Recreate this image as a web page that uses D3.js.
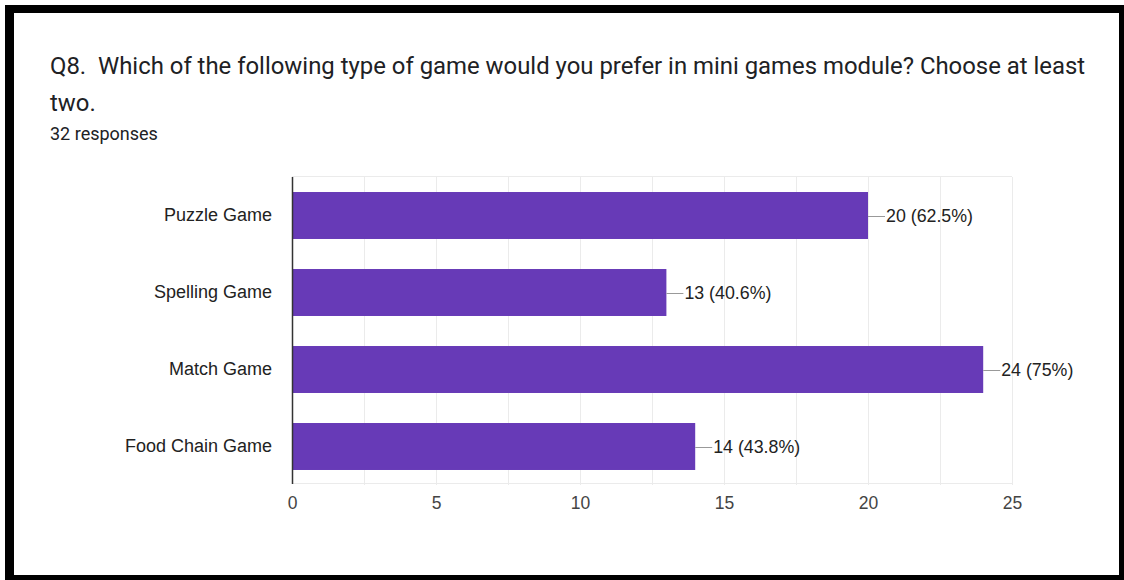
<!DOCTYPE html>
<html>
<head>
<meta charset="utf-8">
<script src="https://cdn.jsdelivr.net/npm/d3@7"></script>
<style>
  html, body { margin: 0; padding: 0; background: #fff; }
  svg { display: block; }
</style>
</head>
<body>
<svg id="chart" width="1124" height="580"></svg>
<script>
// Survey question and responses
const titleLines = ["Q8.  Which of the following type of game would you prefer in mini games module? Choose at least", "two."];
const responsesLabel = "32 responses";
const categories = ["Puzzle Game", "Spelling Game", "Match Game", "Food Chain Game"];
const counts = [20, 13, 24, 14];
const percents = ["62.5%", "40.6%", "75%", "43.8%"];
const tickValues = [0, 5, 10, 15, 20, 25];

const svg = d3.select("#chart");

// Card frame
svg.append("rect").attr("x", 5).attr("y", 5).attr("width", 1119).attr("height", 575).attr("fill", "#000");
svg.append("rect").attr("x", 14).attr("y", 13).attr("width", 1105).attr("height", 562).attr("fill", "#fff");

// Heading
const title = svg.append("text")
  .attr("font-family", "Roboto, 'Noto Sans', sans-serif")
  .attr("font-size", 23.9)
  .attr("fill", "#202124")
  .style("white-space", "pre");
titleLines.forEach((line, i) => {
  title.append("tspan").attr("x", 50).attr("y", 74 + i * 37).text(line);
});
svg.append("text")
  .attr("x", 50).attr("y", 139.5)
  .attr("font-family", "Roboto, 'Noto Sans', sans-serif")
  .attr("font-size", 18)
  .attr("fill", "#202124")
  .text(responsesLabel);

// Plot area
const plot = { left: 292, right: 1012, top: 177, bottom: 485 };
const x = d3.scaleLinear().domain([0, 25]).range([plot.left, plot.right]);
const y = d3.scaleBand().domain(categories).range([plot.top, plot.bottom]).paddingInner(0.39).paddingOuter(0.195);

const chartFont = "'Liberation Sans', Arial, sans-serif";
const data = categories.map((c, i) => ({ cat: c, count: counts[i], pct: percents[i] }));

// Grid: vertical lines every 2.5 units, plus top and bottom edges
const grid = svg.append("g").attr("stroke", "#ebebeb").attr("stroke-width", 1);
d3.range(2.5, 25.01, 2.5).forEach(v => {
  grid.append("line").attr("x1", Math.round(x(v)) + 0.5).attr("x2", Math.round(x(v)) + 0.5)
    .attr("y1", plot.top).attr("y2", plot.bottom);
});
grid.append("line").attr("x1", plot.left).attr("x2", plot.right).attr("y1", plot.top - 0.5).attr("y2", plot.top - 0.5);
grid.append("line").attr("x1", plot.left).attr("x2", plot.right).attr("y1", plot.bottom - 1.5).attr("y2", plot.bottom - 1.5);

// Bars
svg.append("g").selectAll("rect").data(data).join("rect")
  .attr("x", x(0))
  .attr("y", d => y(d.cat))
  .attr("width", d => x(d.count) - x(0))
  .attr("height", y.bandwidth())
  .attr("fill", "#673ab7");

// Baseline
svg.append("line")
  .attr("x1", x(0) + 0.5).attr("x2", x(0) + 0.5)
  .attr("y1", plot.top).attr("y2", plot.bottom - 1)
  .attr("stroke", "#333").attr("stroke-width", 1.5);

// X axis tick labels
const xAxis = d3.axisBottom(x).tickValues(tickValues).tickSize(0).tickPadding(0);
const gx = svg.append("g").attr("transform", `translate(0, ${plot.bottom})`).call(xAxis);
gx.select(".domain").remove();
gx.selectAll("text")
  .attr("dy", 0).attr("y", 24)
  .attr("font-family", chartFont).attr("font-size", 17.5).attr("fill", "#444");

// Category labels
const yAxis = d3.axisLeft(y).tickSize(0).tickPadding(20);
const gy = svg.append("g").attr("transform", `translate(${plot.left}, 0)`).call(yAxis);
gy.select(".domain").remove();
gy.selectAll("text")
  .attr("font-family", chartFont).attr("font-size", 18).attr("fill", "#222");

// Leader lines and value labels
const lab = svg.append("g");
data.forEach(d => {
  const cy = y(d.cat) + y.bandwidth() / 2;
  lab.append("line")
    .attr("x1", x(d.count)).attr("x2", x(d.count) + 17)
    .attr("y1", Math.round(cy) + 0.5).attr("y2", Math.round(cy) + 0.5)
    .attr("stroke", "#999").attr("stroke-width", 1);
  lab.append("text")
    .attr("x", x(d.count) + 18).attr("y", cy).attr("dy", "0.35em")
    .attr("font-family", chartFont).attr("font-size", 17.8).attr("fill", "#222")
    .text(`${d.count} (${d.pct})`);
});
</script>
</body>
</html>
